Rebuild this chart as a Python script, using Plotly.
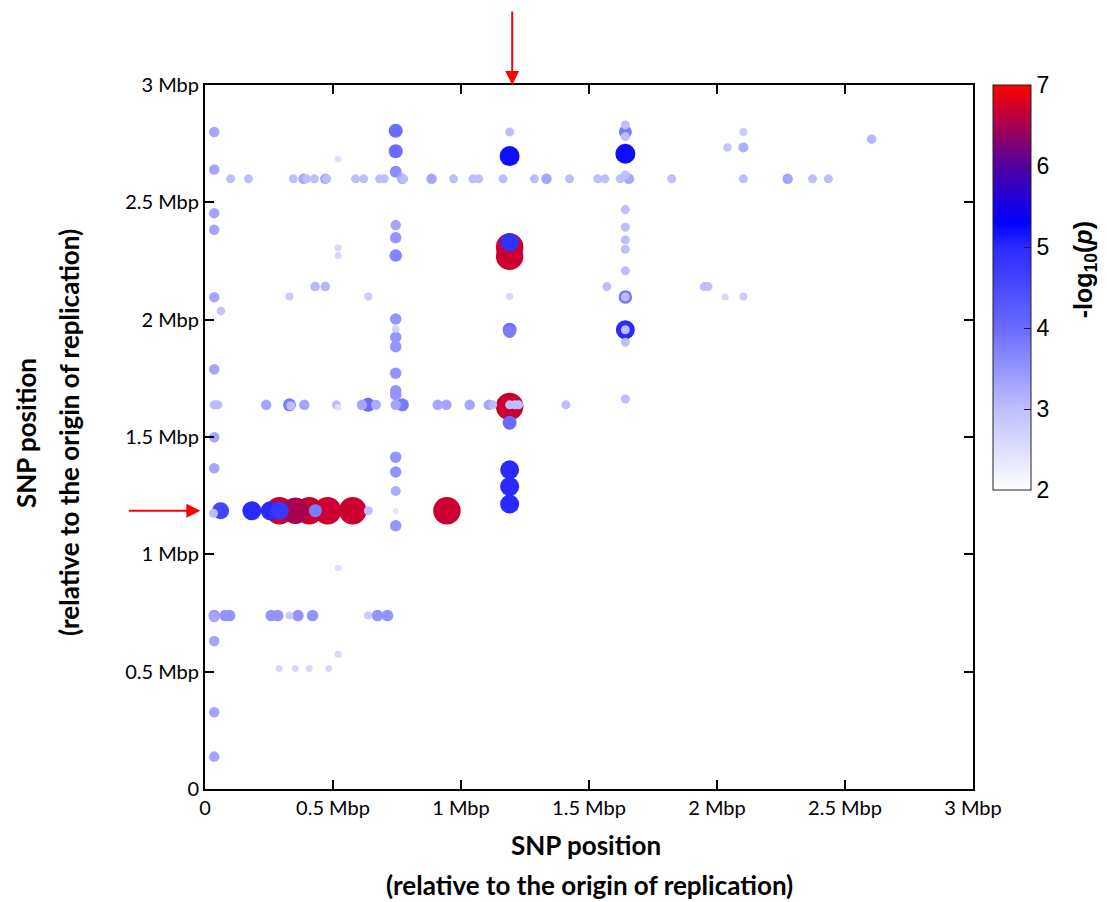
import plotly.graph_objects as go

# SNP pair positions (Mbp, relative to origin of replication) and -log10(p)
x_mbp = [
    # column near 0.03 Mbp
    0.036, 0.036, 0.036, 0.036, 0.036, 0.062, 0.036, 0.036, 0.050, 0.036,
    0.036, 0.033, 0.061, 0.036, 0.036, 0.036, 0.036, 0.036,
    # row at 2.6 Mbp
    0.100, 0.170, 0.345, 0.385, 0.396, 0.427, 0.470, 0.475, 0.588, 0.620,
    0.682, 0.700, 0.771, 0.776, 0.885, 0.971, 1.047, 1.069, 1.164, 1.287,
    1.334, 1.424, 1.534, 1.562, 1.622, 1.656, 1.823, 2.103, 2.276, 2.373,
    2.435,
    # upper-left scattered and column near 0.745 Mbp
    0.520, 0.745, 0.745, 0.745, 0.745, 0.745, 0.745, 0.520, 0.520, 0.430,
    0.470, 0.330, 0.638, 0.745, 0.745, 0.745, 0.745, 0.745, 0.745, 0.745,
    0.745, 0.745, 0.745, 0.745, 0.745,
    # column near 1.19 Mbp
    1.190, 1.190, 1.190, 1.190, 1.190, 1.190, 1.190, 1.190, 1.190, 1.190,
    1.210, 1.225, 1.190, 1.190, 1.190, 1.190,
    # column near 1.64 Mbp
    1.642, 1.642, 1.642, 1.642, 1.642, 1.642, 1.642, 1.642, 1.642, 1.642,
    1.642, 1.642, 1.642, 1.642, 1.642, 1.642,
    # upper right scattered
    1.570, 1.950, 1.965, 2.032, 2.103, 2.041, 2.103, 2.103, 2.604,
    # row at 1.64 Mbp
    0.239, 0.330, 0.335, 0.388, 0.513, 0.520, 0.613, 0.637, 0.668, 0.745,
    0.771, 0.909, 0.943, 1.034, 1.109, 1.124, 1.410,
    # row at 1.19 Mbp
    0.183, 0.255, 0.291, 0.292, 0.353, 0.407, 0.431, 0.479, 0.577, 0.638,
    0.945,
    # lower part
    0.520, 0.079, 0.096, 0.259, 0.284, 0.330, 0.363, 0.420, 0.637, 0.674,
    0.713, 0.520, 0.290, 0.353, 0.407, 0.483,
]

y_mbp = [
    2.800, 2.640, 2.454, 2.383, 2.096, 2.037, 1.789, 1.637, 1.637, 1.499,
    1.367, 1.175, 1.186, 0.739, 0.733, 0.631, 0.327, 0.138,
    2.600, 2.600, 2.600, 2.600, 2.600, 2.600, 2.600, 2.600, 2.600, 2.600,
    2.600, 2.600, 2.600, 2.600, 2.600, 2.600, 2.600, 2.600, 2.600, 2.600,
    2.600, 2.600, 2.600, 2.600, 2.600, 2.600, 2.600, 2.600, 2.600, 2.600,
    2.600,
    2.684, 2.805, 2.718, 2.630, 2.403, 2.349, 2.273, 2.306, 2.273, 2.141,
    2.141, 2.099, 2.099, 2.003, 1.960, 1.925, 1.885, 1.772, 1.697, 1.680,
    1.414, 1.351, 1.270, 1.185, 1.122,
    2.800, 2.697, 2.310, 2.270, 2.330, 2.099, 1.957, 1.950, 1.630, 1.637,
    1.637, 1.637, 1.561, 1.360, 1.289, 1.214,
    2.830, 2.800, 2.780, 2.707, 2.617, 2.469, 2.394, 2.340, 2.300, 2.208,
    2.097, 2.097, 1.957, 1.957, 1.904, 1.662,
    2.141, 2.141, 2.141, 2.097, 2.099, 2.734, 2.800, 2.734, 2.769,
    1.637, 1.637, 1.633, 1.637, 1.637, 1.627, 1.637, 1.637, 1.637, 1.637,
    1.637, 1.637, 1.637, 1.637, 1.637, 1.637, 1.637,
    1.186, 1.186, 1.186, 1.186, 1.186, 1.186, 1.186, 1.186, 1.186, 1.186,
    1.186,
    0.942, 0.739, 0.739, 0.739, 0.739, 0.739, 0.739, 0.739, 0.739, 0.739,
    0.739, 0.574, 0.514, 0.514, 0.514, 0.514,
]

neg_log10_p = [
    3.3, 3.3, 3.3, 3.3, 3.3, 2.9, 3.3, 3.0, 3.0, 3.3,
    3.3, 3.0, 4.6, 3.5, 3.3, 3.3, 3.3, 3.3,
    3.0, 3.0, 3.0, 3.3, 3.0, 3.0, 3.3, 3.0, 3.0, 3.0,
    3.0, 3.0, 3.3, 3.0, 3.3, 3.0, 3.0, 3.0, 3.0, 3.0,
    3.3, 3.0, 3.0, 3.0, 3.0, 3.3, 3.0, 3.0, 3.3, 3.0,
    3.0,
    2.5, 4.0, 4.0, 3.6, 3.3, 3.5, 3.7, 2.6, 2.6, 3.1,
    3.1, 2.8, 2.8, 3.5, 2.7, 3.5, 3.5, 3.5, 3.5, 3.5,
    3.5, 3.5, 3.2, 2.4, 3.5,
    3.0, 5.2, 6.7, 6.7, 4.9, 2.6, 4.0, 3.8, 6.7, 3.0,
    3.0, 3.0, 4.0, 5.0, 5.0, 5.0,
    3.0, 3.8, 3.0, 5.2, 3.0, 3.0, 3.0, 3.0, 3.0, 3.0,
    3.9, 3.0, 5.0, 3.0, 3.0, 3.0,
    3.0, 3.0, 3.0, 2.6, 2.8, 2.9, 2.8, 3.2, 3.1,
    3.3, 3.8, 3.0, 3.3, 3.0, 2.5, 3.3, 4.0, 3.2, 3.3,
    3.8, 3.3, 3.3, 3.3, 3.3, 3.0, 3.0,
    5.0, 5.0, 6.7, 4.8, 6.5, 6.7, 3.8, 6.7, 6.7, 3.0,
    6.7,
    2.5, 3.5, 3.5, 3.5, 3.5, 2.8, 3.5, 3.5, 2.8, 3.5,
    3.5, 2.6, 2.6, 2.6, 2.6, 2.6,
]

tick_vals = [0, 0.5, 1, 1.5, 2, 2.5, 3]
tick_text = ["0", "0.5 Mbp", "1 Mbp", "1.5 Mbp", "2 Mbp", "2.5 Mbp", "3 Mbp"]
cbar_ticks = [2, 3, 4, 5, 6, 7]
arrow_pos = 1.19

# draw strongest first so weaker points sit on top (as in the original)
order = sorted(range(len(neg_log10_p)), key=lambda i: -neg_log10_p[i])
xs = [x_mbp[i] for i in order]
ys = [y_mbp[i] for i in order]
vs = [neg_log10_p[i] for i in order]
sizes = [6.5 + 5 * (v - 2.5) for v in vs]

colorscale = [
    [0.0, "#ffffff"],
    [0.2, "#bebefd"],
    [0.4, "#6a6aff"],
    [0.6, "#2a2aff"],
    [0.66, "#0000ff"],
    [0.8, "#5000a0"],
    [1.0, "#ff0000"],
]

fig = go.Figure(
    go.Scatter(
        x=xs, y=ys, mode="markers", hoverinfo="skip",
        marker=dict(
            size=sizes, color=vs, cmin=2, cmax=7, colorscale=colorscale,
            line=dict(width=0), opacity=1, showscale=True,
            colorbar=dict(
                thickness=38, thicknessmode="pixels",
                len=405, lenmode="pixels",
                x=1.026, xanchor="left", y=1.0, yanchor="top",
                xpad=0, ypad=0,
                outlinecolor="#222", outlinewidth=1,
                tickvals=cbar_ticks, ticks="inside", ticklen=7,
                tickcolor="#222",
                tickfont=dict(family="Liberation Sans", size=23, color="black"),
            ),
        ),
    )
)

axis_common = dict(
    range=[0, 3], tickvals=tick_vals, ticktext=tick_text,
    showgrid=False, zeroline=False, showline=True, linecolor="black",
    linewidth=2, mirror="ticks", ticks="inside", ticklen=9, tickwidth=1.5,
    tickcolor="black", tickfont=dict(family="Lato", size=20, color="black"),
)
fig.update_xaxes(**axis_common)
fig.update_yaxes(**axis_common)

title_font = dict(family="Lato", size=26, color="black")
annotations = [
    dict(text="<b>SNP position</b>", x=0.496, y=-0.0795, xref="paper", yref="paper",
         showarrow=False, font=title_font, xanchor="center", yanchor="middle"),
    dict(text="<b>(relative to the origin of replication)</b>", x=0.500, y=-0.136,
         xref="paper", yref="paper", showarrow=False, font=title_font,
         xanchor="center", yanchor="middle"),
    dict(text="<b>SNP position</b>", x=-0.234, y=0.506, xref="paper", yref="paper",
         showarrow=False, font=title_font, textangle=-90,
         xanchor="center", yanchor="middle"),
    dict(text="<b>(relative to the origin of replication)</b>", x=-0.178, y=0.506,
         xref="paper", yref="paper", showarrow=False, font=title_font, textangle=-90,
         xanchor="center", yanchor="middle"),
    dict(text="<b>-log<sub>10</sub>(<i>p</i>)</b>", x=1.146, y=0.737, xref="paper",
         yref="paper", showarrow=False, textangle=-90,
         font=dict(family="Liberation Sans", size=25, color="black"),
         xanchor="center", yanchor="middle"),
    # red arrows marking the 1.19 Mbp locus
    dict(text="", x=arrow_pos + 0.01, y=3.0, xref="x", yref="y", ax=0, ay=-75,
         showarrow=True, arrowhead=2, arrowsize=1.4, arrowwidth=2,
         arrowcolor="red", standoff=0),
    dict(text="", x=-0.006, y=arrow_pos - 0.004, xref="paper", yref="y", ax=-73, ay=0,
         showarrow=True, arrowhead=2, arrowsize=1.4, arrowwidth=2,
         arrowcolor="red", standoff=0),
]

# page body adds an 8px margin, so the figure is 8px smaller each way
fig.update_layout(
    width=1099, height=894,
    margin=dict(l=197, r=134, t=77, b=113),
    plot_bgcolor="white", paper_bgcolor="white",
    showlegend=False, annotations=annotations,
)

fig.write_html("out.html")
